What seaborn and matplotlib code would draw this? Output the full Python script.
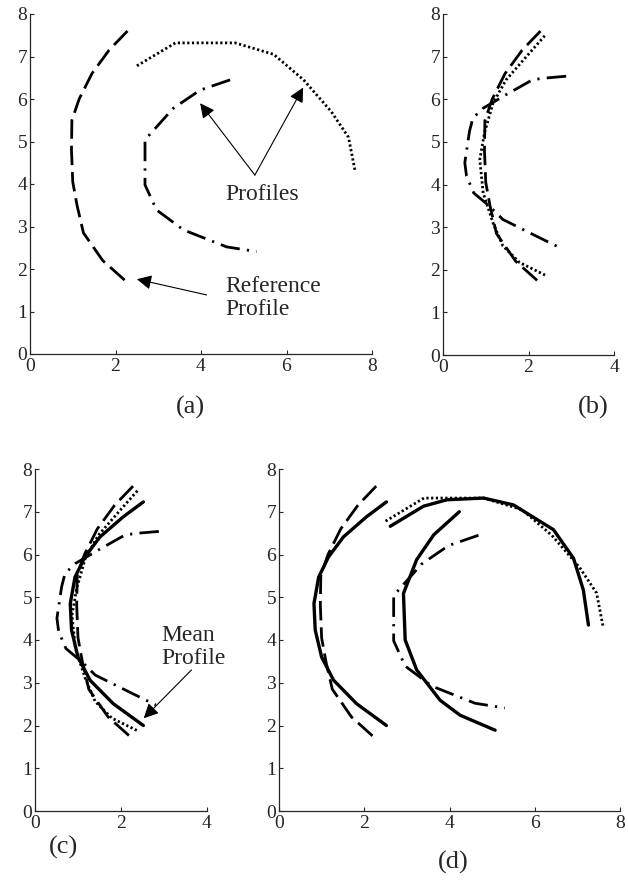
import numpy as np
import pandas as pd
import matplotlib
matplotlib.use("Agg")
import matplotlib.pyplot as plt
import seaborn as sns

# ---- data ----
# reference profile (dashed)
ref_x = [2.28, 1.85, 1.45, 1.15, 0.98, 0.97, 1.0, 1.1, 1.25, 1.7, 2.28]
ref_y = [7.6, 7.15, 6.6, 6.0, 5.5, 4.8, 4.05, 3.5, 2.85, 2.2, 1.68]

# second profile (dotted), original position
dot_x = [2.5, 3.4, 4.8, 5.7, 6.4, 7.05, 7.45, 7.6]
dot_y = [6.78, 7.32, 7.32, 7.05, 6.45, 5.7, 5.1, 4.33]

# third profile (dash-dot), original position
dd_x = [4.68, 3.98, 3.35, 2.69, 2.69, 2.96, 3.59, 4.6, 5.3]
dd_y = [6.45, 6.21, 5.78, 5.04, 3.98, 3.39, 2.92, 2.52, 2.41]

# profiles after registration onto the reference
dot_reg_x = [2.38, 1.95, 1.48, 1.17, 0.97, 0.86, 0.94, 1.17, 1.40, 1.79, 2.42]
dot_reg_y = [7.49, 7.0, 6.46, 5.91, 5.21, 4.58, 3.80, 3.10, 2.56, 2.17, 1.86]
dd_reg_x = [2.88, 2.42, 2.1, 1.48, 0.94, 0.7, 0.62, 0.51, 0.55, 0.72, 1.1, 1.4, 2.2, 2.81]
dd_reg_y = [6.54, 6.5, 6.46, 6.11, 5.79, 5.56, 5.25, 4.51, 4.2, 3.8, 3.48, 3.18, 2.78, 2.48]

# mean profile
mean_x = [2.52, 2.05, 1.51, 1.16, 0.93, 0.82, 0.85, 1.0, 1.28, 1.82, 2.52]
mean_y = [7.23, 6.88, 6.41, 5.94, 5.47, 4.85, 4.23, 3.6, 3.06, 2.51, 2.0]

# mean profile placed back on profiles 2 and 3
mean2_x = [2.61, 3.39, 3.94, 4.8, 5.5, 6.44, 6.91, 7.14, 7.26]
mean2_y = [6.66, 7.13, 7.28, 7.32, 7.16, 6.58, 5.91, 5.17, 4.35]
mean3_x = [4.23, 3.63, 3.23, 2.92, 2.96, 3.23, 3.78, 4.25, 5.07]
mean3_y = [7.0, 6.46, 5.88, 5.09, 4.0, 3.3, 2.59, 2.24, 1.89]

panel_labels = ["(a)", "(b)", "(c)", "(d)"]

# ---- styling ----
sns.set_style("ticks")
plt.rcParams["font.family"] = ["Liberation Serif", "DejaVu Serif"]

DASHED = dict(linestyle=(0, (7.0, 2.5)), linewidth=2.0)
DOTTED = dict(linestyle=(0, (0.8, 0.9)), linewidth=2.0)
DASHDOT = dict(linestyle=(0, (7.0, 2.6, 0.8, 2.6)), linewidth=2.0)
SOLID = dict(linestyle="-", linewidth=2.4)


def curve(ax, x, y, style):
    sns.lineplot(x=x, y=y, sort=False, estimator=None, ax=ax,
                 color="black", **style)


def setup(ax, xmax):
    ax.set_xlim(0, xmax)
    ax.set_ylim(0, 8)
    ax.set_xticks(np.arange(0, xmax + 1, 2))
    ax.set_yticks(np.arange(0, 9, 1))
    sns.despine(ax=ax)
    for s in ["left", "bottom"]:
        ax.spines[s].set_linewidth(0.9)
    ax.tick_params(direction="in", length=3, width=0.8, labelsize=14)
    ax.tick_params(axis="x", pad=3)
    ax.tick_params(axis="y", pad=2)


arrow = dict(arrowstyle="-|>", color="black", lw=0.8,
             mutation_scale=22, shrinkA=0, shrinkB=0)

W, H = 628, 882
fig = plt.figure(figsize=(W / 100, H / 100), dpi=100)


def add_axes(left, top, right, bottom):
    return fig.add_axes([left / W, 1 - bottom / H, (right - left) / W, (bottom - top) / H])


ax_a = add_axes(30, 14, 372, 354)
ax_b = add_axes(443, 14, 614, 355)
ax_c = add_axes(35, 469, 207, 811)
ax_d = add_axes(279, 469, 620, 811)

# (a) original profiles
curve(ax_a, ref_x, ref_y, DASHED)
curve(ax_a, dot_x, dot_y, DOTTED)
curve(ax_a, dd_x, dd_y, DASHDOT)
setup(ax_a, 8)
ax_a.text(4.56, 3.75, "Profiles", fontsize=17, va="center", ha="left")
ax_a.annotate("", xy=(3.98, 5.9), xytext=(5.26, 4.21), arrowprops=arrow)
ax_a.annotate("", xy=(6.39, 6.27), xytext=(5.26, 4.21), arrowprops=arrow)
ax_a.text(4.56, 1.32, "Reference\nProfile", fontsize=17, va="center", ha="left",
          linespacing=1.15)
ax_a.annotate("", xy=(2.5, 1.76), xytext=(4.13, 1.39), arrowprops=arrow)

# (b) registered profiles
curve(ax_b, ref_x, ref_y, DASHED)
curve(ax_b, dot_reg_x, dot_reg_y, DOTTED)
curve(ax_b, dd_reg_x, dd_reg_y, DASHDOT)
setup(ax_b, 4)

# (c) registered profiles + mean
curve(ax_c, ref_x, ref_y, DASHED)
curve(ax_c, dot_reg_x, dot_reg_y, DOTTED)
curve(ax_c, dd_reg_x, dd_reg_y, DASHDOT)
curve(ax_c, mean_x, mean_y, SOLID)
setup(ax_c, 4)
ax_c.text(2.95, 3.84, "Mean\nProfile", fontsize=17, va="center", ha="left",
          linespacing=1.15)
ax_c.annotate("", xy=(2.53, 2.17), xytext=(3.64, 3.3), arrowprops=arrow,
              annotation_clip=False)

# (d) mean put back on each profile
curve(ax_d, ref_x, ref_y, DASHED)
curve(ax_d, dot_x, dot_y, DOTTED)
curve(ax_d, dd_x, dd_y, DASHDOT)
curve(ax_d, mean_x, mean_y, SOLID)
curve(ax_d, mean2_x, mean2_y, SOLID)
curve(ax_d, mean3_x, mean3_y, SOLID)
setup(ax_d, 8)

for ax in [ax_a, ax_b, ax_c, ax_d]:
    for t in ax.texts:
        t.set_clip_on(False)

label_pos = [(190, 407), (593, 407), (63, 847), (453, 862)]
for lab, (px, py) in zip(panel_labels, label_pos):
    fig.text(px / W, 1 - py / H, lab, fontsize=19, ha="center", va="center")

fig.savefig("out.png", dpi=100, facecolor="white")
